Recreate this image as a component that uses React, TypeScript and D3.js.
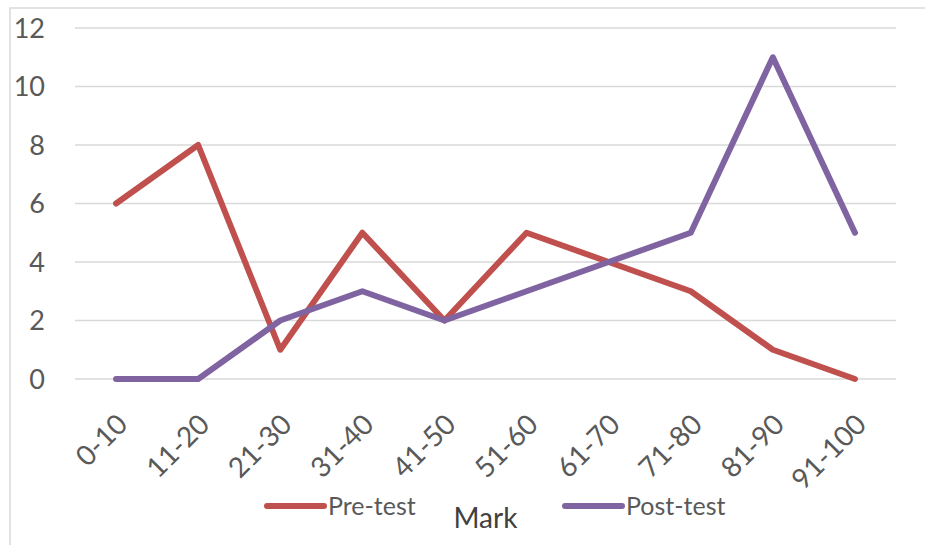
import React from 'react';
import * as d3 from 'd3';

const marks = ['0-10', '11-20', '21-30', '31-40', '41-50', '51-60', '61-70', '71-80', '81-90', '91-100'];
const preTest = [6, 8, 1, 5, 2, 5, 4, 3, 1, 0];
const postTest = [0, 0, 2, 3, 2, 3, 4, 5, 11, 5];
const yTicks = [0, 2, 4, 6, 8, 10, 12];

const font = 'Lato, "Open Sans", sans-serif';

export default function App() {
    const width = 925, height = 545;
    const margin = { top: 28, right: 29, bottom: 166, left: 75 };
    const w = width - margin.left - margin.right;
    const h = height - margin.top - margin.bottom;

    const x = d3.scaleBand().domain(marks).range([0, w]);
    const y = d3.scaleLinear().domain([0, 12]).range([h, 0]);

    const line = d3.line<number>()
        .x((d, i) => x(marks[i])! + x.bandwidth() / 2)
        .y(d => y(d));

    const series = [
        { name: 'Pre-test', values: preTest, color: '#c0504d' },
        { name: 'Post-test', values: postTest, color: '#8064a2' }
    ];

    return (
        <svg width={width} height={height}
            style={{ position: 'absolute', left: 0, top: 0, display: 'block' }}
            fontFamily={font}>
            <rect x={0} y={0} width={width} height={height} fill="#fff" />
            <path d={`M10,${height} V8 H${width}`} fill="none" stroke="#d9d9d9" strokeWidth={1.5} />
            <g transform={`translate(${margin.left},${margin.top})`}>
                {yTicks.map(t => (
                    <g key={t}>
                        <line x1={0} x2={w} y1={y(t)} y2={y(t)} stroke="#d9d9d9" strokeWidth={1.5} />
                        <text x={-30} y={y(t)} dy="0.36em" textAnchor="end" fontSize={27} fill="#595959">{t}</text>
                    </g>
                ))}
                {marks.map(m => {
                    const cx = x(m)! + x.bandwidth() / 2;
                    return (
                        <text key={m} transform={`translate(${cx + 6},${h + 40}) rotate(-45)`}
                            textAnchor="end" dy="0.36em" fontSize={28} fill="#595959">{m}</text>
                    );
                })}
                {series.map(s => (
                    <path key={s.name} d={line(s.values)!} fill="none" stroke={s.color}
                        strokeWidth={6} strokeLinejoin="round" strokeLinecap="round" />
                ))}
            </g>
            {series.map((s, i) => {
                const lx = i === 0 ? 267 : 565;
                return (
                    <g key={s.name}>
                        <line x1={lx} x2={lx + 57} y1={506} y2={506} stroke={s.color} strokeWidth={6} strokeLinecap="round" />
                        <text x={lx + 61} y={506} dy="0.36em" fontSize={25} fill="#595959">{s.name}</text>
                    </g>
                );
            })}
            <text x={margin.left + w / 2} y={528} textAnchor="middle" fontSize={28} fill="#404040">Mark</text>
        </svg>
    );
}
